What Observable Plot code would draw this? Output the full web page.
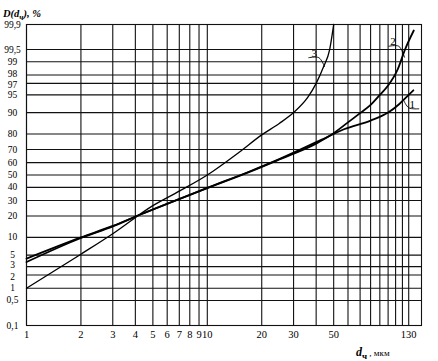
<!DOCTYPE html>
<html>
<head>
<meta charset="utf-8">
<script src="https://cdn.jsdelivr.net/npm/d3@7"></script>
<script src="https://cdn.jsdelivr.net/npm/@observablehq/plot@0.6"></script>
<style>
  html, body { margin: 0; padding: 0; background: #fff; }
</style>
</head>
<body>
<div id="chart"></div>
<script>
// ---- data (x in µm, y in %) ----
const xGrid = [1, 2, 3, 4, 5, 6, 7, 8, 9, 10, 20, 30, 40, 50, 60, 70, 80, 90, 100, 110, 120, 130];
const xLabels = [1, 2, 3, 4, 5, 6, 7, 8, 9, 10, 20, 30, 50, 130];
const yTicks = [0.1, 0.5, 1, 2, 3, 5, 10, 20, 30, 40, 50, 60, 70, 80, 90, 95, 97, 98, 99, 99.5, 99.9];
const yTicksUp = [3, 98];     // labels nudged up to avoid touching neighbours
const yTicksDown = [2, 97];   // labels nudged down

const curve1X = [1, 2, 3, 4.3, 10, 17.4, 25, 40, 48, 57, 80, 100, 115, 130, 138];
const curve1P = [3.7, 9.8, 14.6, 21, 39.4, 53, 62.5, 74, 79.1, 82.6, 86.8, 90, 92.7, 95, 95.9];

const curve2X = [1, 2, 3, 4.3, 10, 17.4, 25, 40, 48, 60, 70, 80, 90, 100, 113, 124, 138.7];
const curve2P = [4.3, 10, 14.8, 21, 39.6, 53.3, 62.8, 75, 79.3, 86, 89.8, 92.5, 95, 96.7, 98.5, 99.5, 99.85];

const curve3X = [1, 2, 3, 5, 7, 10, 15, 20, 25, 30, 36, 40, 44, 47.5, 50];
const curve3P = [1, 5.2, 11.4, 26.5, 37, 50, 68, 79.5, 85.5, 90, 94.5, 97, 98.7, 99.5, 99.9];

// leader strokes for the curve numbers
const lead1X = [122, 130.2, 147.8];
const lead1P = [93.7, 91.6, 91.3];
const lead2X = [100.9, 114.6, 123.2];
const lead2P = [99.59, 99.59, 99.22];
const lead3X = [36.4, 41.4, 44.5];
const lead3P = [99.2, 99.2, 98.7];

const numLabels = ["1", "2", "3"];
const numLabelX = [136, 106.4, 39.0];
const numLabelP = [91.4, 99.62, 99.23];

// ---- probability (normal quantile) axis helper ----
function probit(pct) {
  const q = pct / 100;
  const a = [-3.969683028665376e+01, 2.209460984245205e+02, -2.759285104469687e+02, 1.383577518672690e+02, -3.066479806614716e+01, 2.506628277459239e+00];
  const b = [-5.447609879822406e+01, 1.615858368580409e+02, -1.556989798598866e+02, 6.680131188771972e+01, -1.328068155288572e+01];
  const c = [-7.784894002430293e-03, -3.223964580411365e-01, -2.400758277161838e+00, -2.549671010229838e+00, 4.374664141464968e+00, 2.938163982698783e+00];
  const d = [7.784695709041462e-03, 3.224671290700398e-01, 2.445134137142996e+00, 3.754408661907416e+00];
  const plow = 0.02425, phigh = 1 - plow;
  if (q < plow) {
    const r = Math.sqrt(-2 * Math.log(q));
    return (((((c[0]*r+c[1])*r+c[2])*r+c[3])*r+c[4])*r+c[5]) / ((((d[0]*r+d[1])*r+d[2])*r+d[3])*r+1);
  }
  if (q > phigh) {
    const r = Math.sqrt(-2 * Math.log(1 - q));
    return -(((((c[0]*r+c[1])*r+c[2])*r+c[3])*r+c[4])*r+c[5]) / ((((d[0]*r+d[1])*r+d[2])*r+d[3])*r+1);
  }
  const r = q - 0.5, s = r * r;
  return (((((a[0]*s+a[1])*s+a[2])*s+a[3])*s+a[4])*s+a[5])*r / (((((b[0]*s+b[1])*s+b[2])*s+b[3])*s+b[4])*s+1);
}

const toRows = (xs, ps) => xs.map((x, i) => ({x, p: ps[i]}));
const rows1 = toRows(curve1X, curve1P);
const rows2 = toRows(curve2X, curve2P);
const rows3 = toRows(curve3X, curve3P);
const lead1 = toRows(lead1X, lead1P);
const lead2 = toRows(lead2X, lead2P);
const lead3 = toRows(lead3X, lead3P);
const labelRows = numLabels.map((t, i) => ({t, x: numLabelX[i], p: numLabelP[i]}));

const font = "'Liberation Serif', 'DejaVu Serif', serif";
const fmt = v => String(v).replace(".", ",");
const yLabelOpts = (dy) => ({y: d => probit(d), text: fmt, frameAnchor: "left", dx: -14, dy, textAnchor: "middle", fontSize: 9.5, fill: "#000"});

const chart = Plot.plot({
  width: 438,
  height: 361,
  marginTop: 24,
  marginBottom: 36,
  marginLeft: 26,
  marginRight: 17,
  style: {background: "#fff", fontFamily: font, color: "#000"},
  x: {type: "log", domain: [1, 153], axis: null},
  y: {type: "linear", domain: [probit(0.1), probit(99.9)], axis: null},
  marks: [
    Plot.ruleX(xGrid, {x: d => d, stroke: "#111", strokeWidth: 1.1}),
    Plot.ruleY(yTicks, {y: d => probit(d), stroke: "#111", strokeWidth: 1.1}),
    Plot.frame({stroke: "#111", strokeWidth: 1.1}),
    Plot.line(rows1, {x: "x", y: d => probit(d.p), stroke: "#000", strokeWidth: 1.8, curve: "monotone-x"}),
    Plot.line(rows2, {x: "x", y: d => probit(d.p), stroke: "#000", strokeWidth: 1.8, curve: "monotone-x"}),
    Plot.line(rows3, {x: "x", y: d => probit(d.p), stroke: "#000", strokeWidth: 1.3, curve: "monotone-x"}),
    Plot.line(lead1, {x: "x", y: d => probit(d.p), stroke: "#000", strokeWidth: 0.9, curve: "catmull-rom"}),
    Plot.line(lead2, {x: "x", y: d => probit(d.p), stroke: "#000", strokeWidth: 0.9, curve: "catmull-rom"}),
    Plot.line(lead3, {x: "x", y: d => probit(d.p), stroke: "#000", strokeWidth: 0.9, curve: "catmull-rom"}),
    Plot.text(labelRows, {x: "x", y: d => probit(d.p), text: "t", lineAnchor: "bottom", fontSize: 11, fill: "#000"}),
    Plot.text(yTicks.filter(v => !yTicksUp.includes(v) && !yTicksDown.includes(v)), yLabelOpts(0)),
    Plot.text(yTicksUp, yLabelOpts(-1.5)),
    Plot.text(yTicksDown, yLabelOpts(1.5)),
    Plot.text(xLabels, {x: d => d, text: d => String(d), frameAnchor: "bottom", dy: 12, fontSize: 10.5, fill: "#000"})
  ]
});

document.getElementById("chart").appendChild(chart);

// axis titles with subscripts
const svg = d3.select(chart);
const yt = svg.append("text")
  .attr("x", 3).attr("y", 17)
  .attr("text-anchor", "start")
  .attr("font-family", font).attr("font-size", 10.5)
  .attr("font-weight", "bold").attr("font-style", "italic").attr("fill", "#000");
yt.append("tspan").text("D(d");
yt.append("tspan").attr("dy", 3).attr("font-size", 8).text("ч");
yt.append("tspan").attr("dy", -3).text("), %");

const xt = svg.append("text")
  .attr("x", 356).attr("y", 356)
  .attr("text-anchor", "start")
  .attr("font-family", font).attr("fill", "#000");
xt.append("tspan").attr("font-size", 12).attr("font-weight", "bold").attr("font-style", "italic").text("d");
xt.append("tspan").attr("dy", 3).attr("font-size", 9).attr("font-weight", "bold").text("ч");
xt.append("tspan").attr("dy", -3).attr("font-size", 9).text(" , мкм");
</script>
</body>
</html>
